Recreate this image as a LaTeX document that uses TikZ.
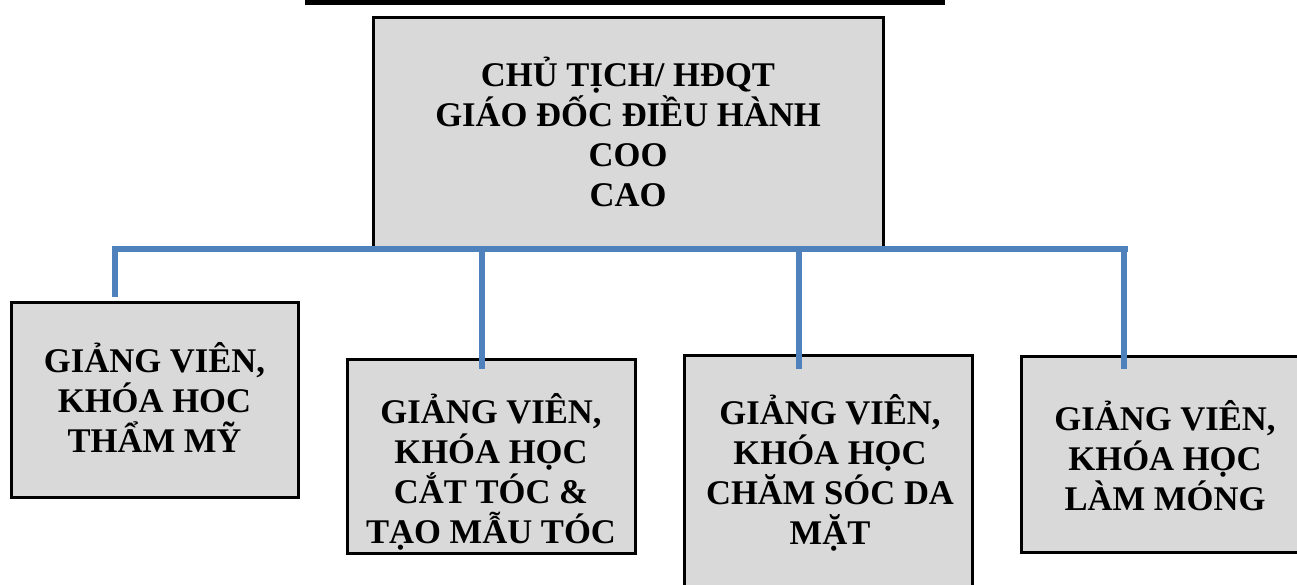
\documentclass[tikz,border=0pt]{standalone}
\usepackage{fontspec}
\setmainfont{Liberation Serif}
\definecolor{boxgray}{HTML}{D9D9D9}
\definecolor{connblue}{HTML}{4F81BD}
\begin{document}
\begin{tikzpicture}[x=1pt,y=-1pt,
  orgbox/.style={draw=black, line width=3pt, fill=boxgray, rectangle, inner sep=0pt},
  label/.style={align=center, anchor=base, inner sep=0pt, font=\bfseries\fontsize{34.6}{40}\selectfont},
  connshadow/.style={draw=black!30, line width=6pt, opacity=0.5},
  conn/.style={draw=connblue, line width=6pt}]
\useasboundingbox (0,0) rectangle (1297,584);
% top black bar
\fill[black] (305,0) rectangle (945,5);
% boxes
\node[orgbox, minimum width=510pt, minimum height=230pt] (top) at (628,132) {};
\node[orgbox, minimum width=287pt, minimum height=195pt] (b1) at (154.5,399.5) {};
\node[orgbox, minimum width=288pt, minimum height=194pt] (b2) at (491,456) {};
\node[orgbox, minimum width=288pt, minimum height=260pt] (b3) at (828,485) {};
\node[orgbox, minimum width=290pt, minimum height=196pt] (b4) at (1166,454) {};
% texts (anchored at the baseline of the last line)
\node[label] (ttop) at (628,206) {CHỦ TỊCH/ HĐQT\\GIÁO ĐỐC ĐIỀU HÀNH\\COO\\CAO};
\node[label] (t1) at (154.5,452) {GIẢNG VIÊN,\\KHÓA HOC\\THẨM MỸ};
\node[label] (t2) at (491,543) {GIẢNG VIÊN,\\KHÓA HỌC\\CẮT TÓC \&\\TẠO MẪU TÓC};
\node[label] (t3) at (830,544) {GIẢNG VIÊN,\\KHÓA HỌC\\CHĂM SÓC DA\\MẶT};
\node[label] (t4) at (1165,510) {GIẢNG VIÊN,\\KHÓA HỌC\\LÀM MÓNG};
% connector coordinates
\coordinate (hl) at (112,249);
\coordinate (hr) at (1128,249);
\coordinate (j1) at (115,249); \coordinate (e1) at (115,297);
\coordinate (j2) at (482,249); \coordinate (e2) at (482,369);
\coordinate (j3) at (799,249); \coordinate (e3) at (799,369);
\coordinate (j4) at (1124,249); \coordinate (e4) at (1124,369);
% shadows
\begin{scope}[shift={(1.5,2)}]
\draw[connshadow] (hl) -- (hr);
\draw[connshadow] (j1) -- (e1);
\draw[connshadow] (j2) -- (e2);
\draw[connshadow] (j3) -- (e3);
\draw[connshadow] (j4) -- (e4);
\end{scope}
% connectors
\draw[conn] (hl) -- (hr);
\draw[conn] (j1) -- (e1);
\draw[conn] (j2) -- (e2);
\draw[conn] (j3) -- (e3);
\draw[conn] (j4) -- (e4);
\end{tikzpicture}
\end{document}
